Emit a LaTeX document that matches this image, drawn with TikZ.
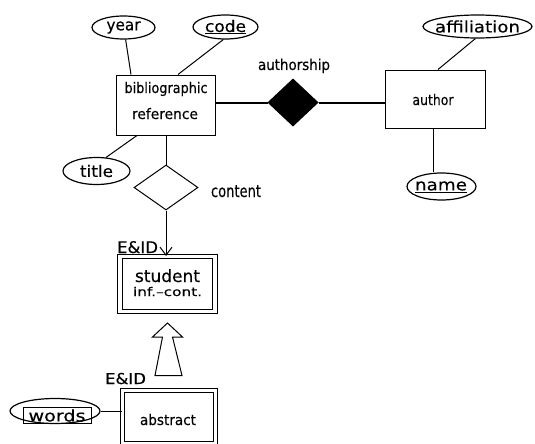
\documentclass[tikz,border=0pt]{standalone}
\usepackage{fontspec}
\setmainfont[FakeBold=0.3]{DejaVu Sans}
\usetikzlibrary{shapes.geometric,arrows.meta}
% squeeze or stretch a label to a given width, keeping its height
\newcommand\fitw[2]{\resizebox{#1pt}{\height}{#2}}

\begin{document}
\begin{tikzpicture}[x=1pt,y=-1pt,
  ent/.style={draw,line width=1pt,inner sep=0pt},
  weak/.style={draw,double,double distance=3.2pt,line width=1pt,inner sep=0pt},
  attr/.style={draw,ellipse,line width=1.2pt,inner sep=0pt},
  rel/.style={draw,diamond,line width=1pt,inner sep=0pt},
  txt/.style={inner sep=0pt,anchor=base,font=\fontsize{14.5}{16}\selectfont},
  alb/.style={inner sep=0pt,font=\fontsize{16}{18}\selectfont},
  link/.style={line width=1pt},
]
\useasboundingbox (0,0) rectangle (535,444);
\clip (0,0) rectangle (535,444);

% entities
\node[ent,minimum width=99,minimum height=60] (bib) at (165.5,105) {};
\node[txt] (bib1) at (166,93) {\fitw{83}{bibliographic}};
\node[txt] (bib2) at (165,119) {\fitw{66}{reference}};
\node[ent,minimum width=100,minimum height=58] (author) at (435,99) {};
\node[txt] (authort) at (433,105) {\fitw{41}{author}};
\node[weak,minimum width=95,minimum height=55] (student) at (167.5,284) {};
\node[txt,font=\fontsize{17}{18}\selectfont] (student1) at (167.5,282) {\fitw{65}{student}};
\node[txt,font=\fontsize{12}{14}\selectfont] (student2) at (167.5,296) {\fitw{69}{inf.--cont.}};
\node[weak,minimum width=93,minimum height=53] (abs) at (169,417) {};
\node[txt] (abst) at (168,425) {\fitw{56}{abstract}};

% attributes
\node[attr,minimum width=63,minimum height=23] (year) at (123.5,27.5) {};
\node[alb] (yeart) at (year) {\fitw{34}{year}};
\node[attr,minimum width=65,minimum height=24] (code) at (225.5,27) {};
\node[alb] (codet) at (code) {\fitw{41}{\underline{code}}};
\node[attr,minimum width=67,minimum height=27] (title) at (96.5,171) {};
\node[alb] (titlet) at (title) {\fitw{33}{title}};
\node[attr,minimum width=109,minimum height=23] (affil) at (477.5,26.5) {};
\node[alb] (affilt) at (affil) {\fitw{85}{affiliation}};
\node[attr,minimum width=69,minimum height=27] (name) at (441.5,186.5) {};
\node[alb] (namet) at (441,187) {\fitw{52}{\underline{name}}};
\node[attr,minimum width=90,minimum height=25] (words) at (55,411) {};
\node[draw,line width=0.9pt,alb,inner sep=0pt,minimum width=68,minimum height=16] (wordsbox) at (57,415.5) {\fitw{57}{words}};

% relationships
\node[rel,minimum width=64,minimum height=45] (content) at (166,187.5) {};
\node[txt,font=\fontsize{17}{18}\selectfont] (contentlbl) at (236,197) {\fitw{50}{content}};
\node[rel,fill=black,minimum width=50,minimum height=47] (authorship) at (293,102.5) {};
\node[txt,font=\fontsize{15}{16}\selectfont] (authorshiplbl) at (294,70) {\fitw{72}{authorship}};

% identification labels
\node[txt,font=\fontsize{16}{16}\selectfont] (eid1) at (137.5,253) {\fitw{41}{E\&ID}};
\node[txt,font=\fontsize{15}{16}\selectfont] (eid2) at (125.5,384) {\fitw{41}{E\&ID}};

% attribute links
\draw[link] (year.-80) -- ([xshift=-34.5pt]bib.north);
\draw[link] (code.-100) -- ([xshift=12.5pt]bib.north);
\draw[link] (title.55) -- ([xshift=-28.5pt]bib.south);
\draw[link] (affil.-100) -- ([xshift=3pt]author.north);
\draw[link] ([xshift=-2pt]author.south) -- ([xshift=-2pt]author.south |- name.north);
\draw[link] (words.east) -- (words.east -| abs.west);

% relationship links
\draw[line width=2pt] (authorship.west) -- (authorship.west -| bib.east);
\draw[line width=2pt] (authorship.east) -- (authorship.east -| author.west);
\draw[link] (bib.south -| content.north) -- (content.north);
\draw[link,-{Straight Barb[length=8pt,width=12pt]}] (content.south) -- (content.south |- student.north);

% hollow is-a arrow from abstract up to student
\path (abs.north) ++(0,-14.5) coordinate (isaB);
\path (student.south) ++(0,11) coordinate (isaT);
\draw[line width=1pt,line join=miter]
  (isaT) -- ++(15,14) -- ++(-10,0) -- (isaB -| 182,0) -- (isaB -| 155,0)
  -- ([shift={(-5,14)}]isaT) -- ++(-10,0) -- cycle;
\end{tikzpicture}
\end{document}
